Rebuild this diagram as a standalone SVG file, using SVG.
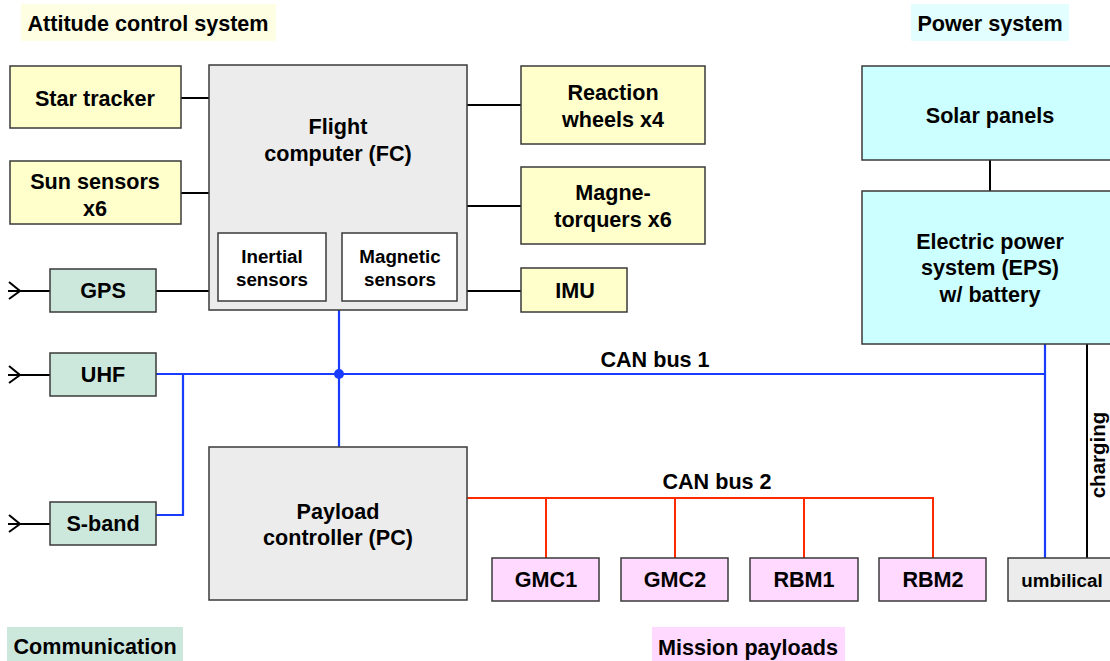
<svg xmlns="http://www.w3.org/2000/svg" width="1110" height="661" viewBox="0 0 1110 661">
<style>
text{font-family:"Liberation Sans",Arial,sans-serif;font-weight:bold;fill:#000;text-anchor:middle}
.t{font-size:21.6px}
.s{font-size:18.8px}
.box{stroke:#3a3a3a;stroke-width:1.5}
.y{fill:#ffffcc}
.g{fill:#ececec}
.c{fill:#cce7dc}
.p{fill:#ccffff}
.m{fill:#ffd9ff}
.w{fill:#ffffff}
.k{stroke:#000;stroke-width:2;fill:none}
.b{stroke:#1a3cff;stroke-width:2.2;fill:none}
.r{stroke:#ff2a00;stroke-width:2;fill:none}
</style>
<rect width="1110" height="661" fill="#fff"/>
<g id="labels">
<rect x="21" y="4" width="255" height="37" fill="#fefee2"/>
<text class="t" x="148" y="31">Attitude control system</text>
<rect x="911" y="4" width="158" height="37" fill="#e2fefe"/>
<text class="t" x="990" y="31">Power system</text>
<rect x="7" y="627" width="176" height="34" fill="#cce7dc"/>
<text class="t" x="95" y="654">Communication</text>
<rect x="652" y="627" width="193" height="34" fill="#ffd9ff"/>
<text class="t" x="748" y="655">Mission payloads</text>
</g>
<g id="connectors">
<path class="k" d="M181 98H209M181 193H209M156 291H209M467 105H521M467 206H521M467 291H521M990 160V191M1087 344V558"/>
<path class="k" d="M8 291H50M9 282L20 291L9 299"/>
<path class="k" d="M8 375H50M9 366L20 375L9 383"/>
<path class="k" d="M8 524H50M9 515L20 524L9 532"/>
<path class="b" d="M156 374H1045M339 310V447M183 374V515H156M1045 344V558"/>
<circle cx="339" cy="374" r="5" fill="#1a3cff"/>
<path class="r" d="M467 498H933V558M546 498V558M675 498V558M804 498V558"/>
<text class="t" x="655" y="367">CAN bus 1</text>
<text class="t" x="717" y="489">CAN bus 2</text>
<text style="font-size:20.5px" transform="translate(1105 455) rotate(-90)">charging</text>
</g>
<g id="star-tracker"><rect class="box y" x="10" y="66" width="171" height="62"/><text class="t" x="95" y="106">Star tracker</text></g>
<g id="sun-sensors"><rect class="box y" x="10" y="161" width="171" height="63"/><text class="t" x="95" y="189">Sun sensors</text><text class="t" x="95" y="216">x6</text></g>
<g id="flight-computer"><rect class="box g" x="209" y="65" width="258" height="245"/><text class="t" x="338" y="134">Flight</text><text class="t" x="338" y="161">computer (FC)</text></g>
<g id="inertial-sensors"><rect class="box w" x="218" y="233" width="108" height="68"/><text class="s" x="272" y="263">Inertial</text><text class="s" x="272" y="286">sensors</text></g>
<g id="magnetic-sensors"><rect class="box w" x="342" y="233" width="115" height="68"/><text class="s" x="400" y="263">Magnetic</text><text class="s" x="400" y="286">sensors</text></g>
<g id="reaction-wheels"><rect class="box y" x="521" y="66" width="184" height="78"/><text class="t" x="613" y="100">Reaction</text><text class="t" x="613" y="127">wheels x4</text></g>
<g id="magnetorquers"><rect class="box y" x="521" y="167" width="184" height="77"/><text class="t" x="613" y="200">Magne-</text><text class="t" x="613" y="227">torquers x6</text></g>
<g id="imu"><rect class="box y" x="521" y="268" width="106" height="44"/><text class="t" x="575" y="298">IMU</text></g>
<g id="gps"><rect class="box c" x="50" y="269" width="106" height="43"/><text class="t" x="103" y="298">GPS</text></g>
<g id="uhf"><rect class="box c" x="50" y="353" width="106" height="43"/><text class="t" x="103" y="382">UHF</text></g>
<g id="s-band"><rect class="box c" x="50" y="502" width="106" height="43"/><text class="t" x="103" y="531">S-band</text></g>
<g id="solar-panels"><rect class="box p" x="862" y="66" width="260" height="94"/><text class="t" x="990" y="123">Solar panels</text></g>
<g id="eps"><rect class="box p" x="862" y="191" width="260" height="153"/><text class="t" x="990" y="249">Electric power</text><text class="t" x="990" y="275">system (EPS)</text><text class="t" x="990" y="302">w/ battery</text></g>
<g id="payload-controller"><rect class="box g" x="209" y="447" width="258" height="153"/><text class="t" x="338" y="519">Payload</text><text class="t" x="338" y="545">controller (PC)</text></g>
<g id="gmc1"><rect class="box m" x="492" y="558" width="107" height="43"/><text class="t" x="546" y="587">GMC1</text></g>
<g id="gmc2"><rect class="box m" x="621" y="558" width="107" height="43"/><text class="t" x="675" y="587">GMC2</text></g>
<g id="rbm1"><rect class="box m" x="750" y="558" width="108" height="43"/><text class="t" x="804" y="587">RBM1</text></g>
<g id="rbm2"><rect class="box m" x="879" y="558" width="107" height="43"/><text class="t" x="933" y="587">RBM2</text></g>
<g id="umbilical"><rect class="box g" x="1008" y="558" width="114" height="43"/><text class="s" x="1062" y="587">umbilical</text></g>
</svg>
